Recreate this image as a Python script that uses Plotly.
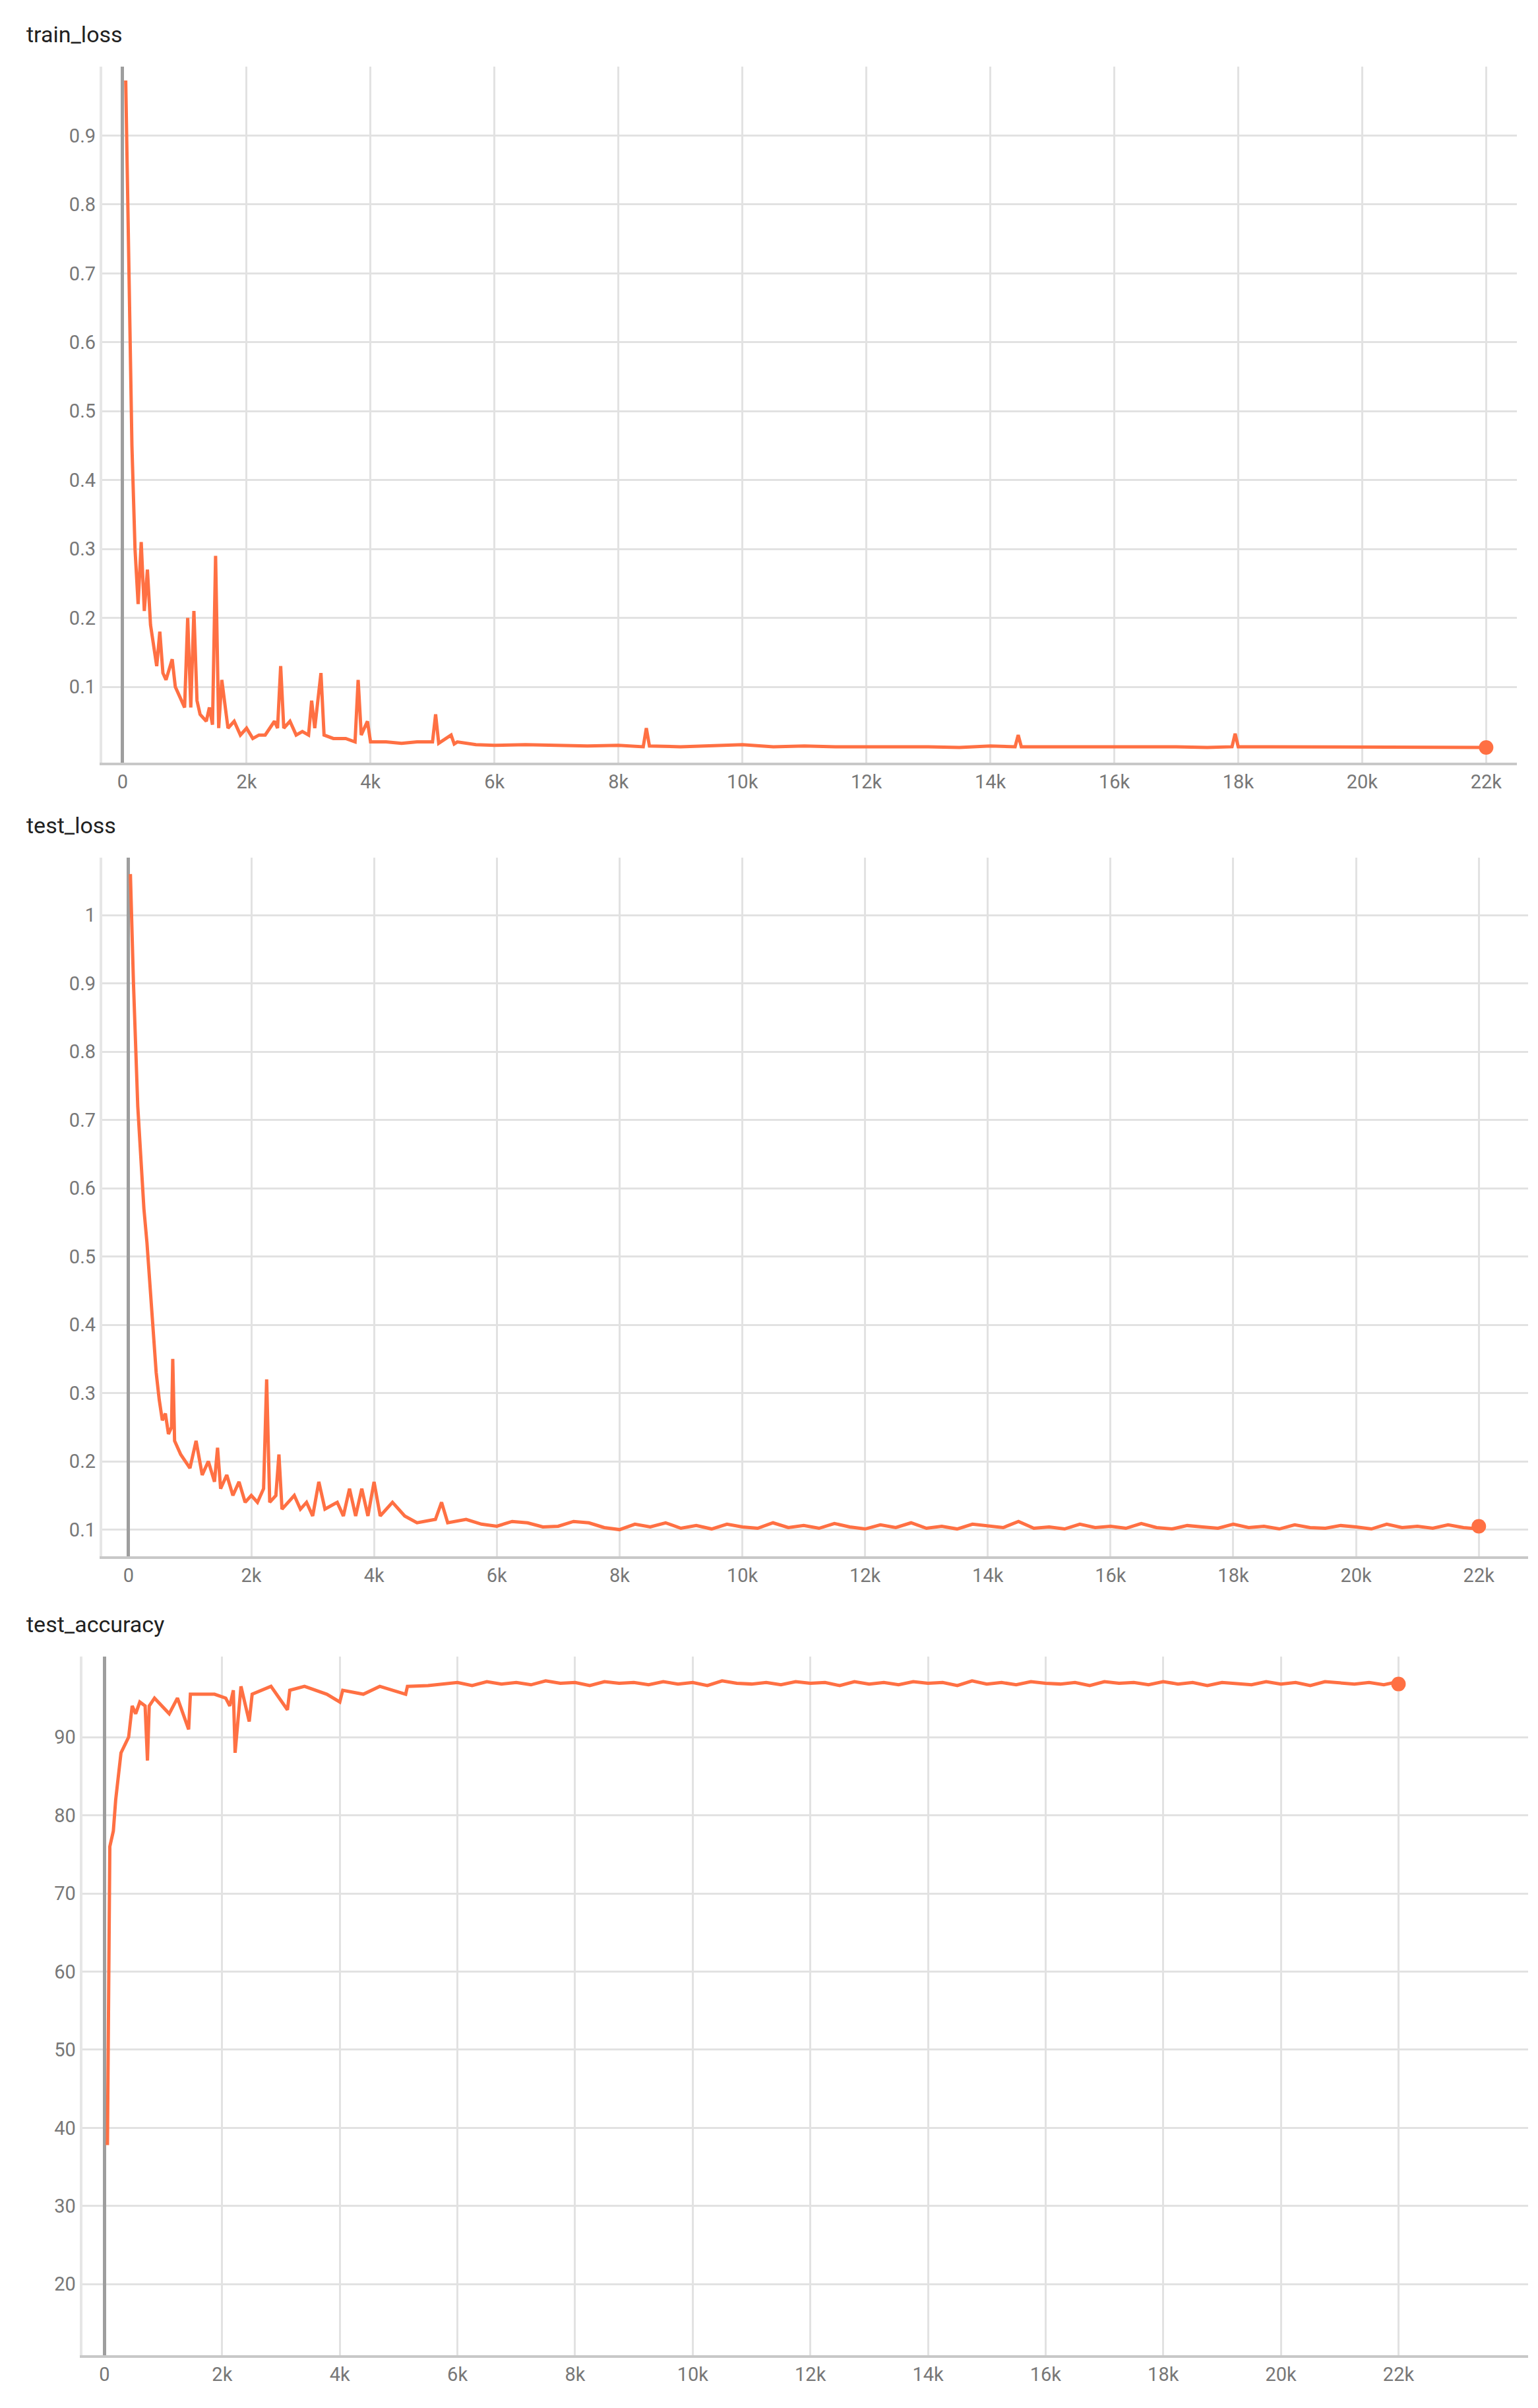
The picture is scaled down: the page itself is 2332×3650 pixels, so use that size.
import plotly.graph_objects as go

# ---- data (steps in thousands) ----
train_x = [0.05,0.1,0.15,0.2,0.25,0.3,0.35,0.4,0.45,0.5,0.55,0.6,0.65,0.7,0.8,0.85,0.9,1.0,1.05,1.1,1.15,1.2,1.25,1.35,1.4,1.45,1.5,1.55,1.6,1.7,1.8,1.9,2.0,2.1,2.2,2.3,2.45,2.5,2.55,2.6,2.7,2.8,2.9,3.0,3.05,3.1,3.2,3.25,3.4,3.6,3.75,3.8,3.85,3.95,4.0,4.25,4.5,4.75,5.0,5.05,5.1,5.3,5.35,5.4,5.7,
           6.0,6.5,7.0,7.5,8.0,8.4,8.45,8.5,9.0,9.5,10.0,10.5,11.0,11.5,12.0,12.5,13.0,13.5,14.0,14.4,14.45,14.5,15.0,15.5,16.0,16.5,17.0,17.5,17.9,17.95,18.0,18.5,19.0,19.5,20.0,20.5,21.0,21.5,22.0]
train_y = [0.98,0.7,0.45,0.3,0.22,0.31,0.21,0.27,0.19,0.16,0.13,0.18,0.12,0.11,0.14,0.10,0.09,0.07,0.2,0.07,0.21,0.08,0.06,0.05,0.07,0.045,0.29,0.04,0.11,0.04,0.05,0.03,0.04,0.025,0.03,0.03,0.05,0.04,0.13,0.04,0.05,0.03,0.035,0.03,0.08,0.04,0.12,0.03,0.025,0.025,0.02,0.11,0.03,0.05,0.02,0.02,0.018,0.02,0.02,0.06,0.018,0.03,0.017,0.02,0.016,
           0.015,0.016,0.015,0.014,0.015,0.013,0.04,0.014,0.013,0.015,0.016,0.013,0.014,0.013,0.013,0.014,0.013,0.012,0.014,0.013,0.03,0.013,0.013,0.014,0.014,0.013,0.013,0.012,0.013,0.032,0.013,0.013,0.013,0.012,0.012,0.013,0.013,0.012,0.012]

test_x = [0.03,0.08,0.15,0.25,0.3,0.4,0.45,0.5,0.55,0.6,0.65,0.7,0.72,0.75,0.85,1.0,1.1,1.2,1.3,1.4,1.45,1.5,1.6,1.7,1.8,1.9,2.0,2.1,2.2,2.25,2.3,2.4,2.45,2.5,2.7,2.8,2.9,3.0,3.1,3.2,3.4,3.5,3.6,3.7,3.8,3.9,4.0,4.1,4.3,4.5,4.7,5.0,5.1,5.2,5.5,5.75,6.0,6.25,6.5,6.75,7.0,7.25,7.5,7.75,
          8.0,8.25,8.5,8.75,9.0,9.25,9.5,9.75,10.0,10.25,10.5,10.75,11.0,11.25,11.5,11.75,12.0,12.25,12.5,12.75,13.0,13.25,13.5,13.75,14.0,14.25,14.5,14.75,15.0,15.25,15.5,15.75,16.0,16.25,16.5,16.75,17.0,17.25,17.5,17.75,18.0,18.25,18.5,18.75,19.0,19.25,19.5,19.75,20.0,20.25,20.5,20.75,21.0,21.25,21.5,21.75,22.0]
test_y = [1.06,0.9,0.72,0.57,0.52,0.40,0.33,0.29,0.26,0.27,0.24,0.25,0.35,0.23,0.21,0.19,0.23,0.18,0.2,0.17,0.22,0.16,0.18,0.15,0.17,0.14,0.15,0.14,0.16,0.32,0.14,0.15,0.21,0.13,0.15,0.13,0.14,0.12,0.17,0.13,0.14,0.12,0.16,0.12,0.16,0.12,0.17,0.12,0.14,0.12,0.11,0.115,0.14,0.11,0.115,0.108,0.105,0.112,0.11,0.104,0.105,0.112,0.11,0.103,
          0.10,0.108,0.104,0.11,0.102,0.106,0.101,0.108,0.104,0.102,0.11,0.103,0.106,0.102,0.109,0.104,0.101,0.107,0.103,0.11,0.102,0.105,0.101,0.108,0.106,0.103,0.112,0.102,0.104,0.101,0.108,0.103,0.105,0.102,0.109,0.103,0.101,0.106,0.104,0.102,0.108,0.103,0.105,0.101,0.107,0.103,0.102,0.106,0.104,0.101,0.108,0.103,0.105,0.102,0.107,0.103,0.101,0.104,0.105]

acc_x = [0.02,0.05,0.09,0.15,0.19,0.28,0.41,0.47,0.53,0.6,0.69,0.73,0.76,0.85,1.1,1.24,1.43,1.46,1.87,2.06,2.13,2.19,2.22,2.32,2.46,2.51,2.83,3.11,3.15,3.4,3.78,4.0,4.05,4.4,4.68,5.12,5.15,5.5,
         6.0,6.25,6.5,6.75,7.0,7.25,7.5,7.75,8.0,8.25,8.5,8.75,9.0,9.25,9.5,9.75,10.0,10.25,10.5,10.75,11.0,11.25,11.5,11.75,12.0,12.25,12.5,12.75,13.0,13.25,13.5,13.75,14.0,14.25,14.5,14.75,15.0,15.25,15.5,15.75,16.0,16.25,16.5,16.75,17.0,17.25,17.5,17.75,18.0,18.25,18.5,18.75,19.0,19.25,19.5,19.75,20.0,20.25,20.5,20.75,21.0,21.25,21.5,21.75,22.0]
acc_y = [38,38,76,78,82,88,90,94,93,94.5,94,87,94,95,93,95,91,95.5,95.5,95,94,96,88,96.5,92,95.5,96.5,93.5,96,96.5,95.5,94.5,96,95.5,96.5,95.5,96.5,96.6,
         97,96.6,97.1,96.8,97,96.7,97.2,96.9,97,96.6,97.1,96.9,97,96.7,97.1,96.8,97,96.6,97.2,96.9,96.8,97,96.7,97.1,96.9,97,96.6,97.1,96.8,97,96.7,97.1,96.9,97,96.6,97.2,96.8,97,96.7,97.1,96.9,96.8,97,96.6,97.1,96.9,97,96.7,97.1,96.8,97,96.6,97,96.9,96.7,97.1,96.8,97,96.6,97.1,96.9,96.8,97,96.7,97.1,96.8]

titles = ["train_loss", "test_loss", "test_accuracy"]
x_tickvals = [0, 2, 4, 6, 8, 10, 12, 14, 16, 18, 20, 22]
x_ticktext = ["0", "2k", "4k", "6k", "8k", "10k", "12k", "14k", "16k", "18k", "20k", "22k"]
loss_ticks = [0.1, 0.2, 0.3, 0.4, 0.5, 0.6, 0.7, 0.8, 0.9]
test_loss_ticks = [0.1, 0.2, 0.3, 0.4, 0.5, 0.6, 0.7, 0.8, 0.9, 1]
acc_ticks = [20, 30, 40, 50, 60, 70, 80, 90]

ORANGE = "#ff7043"
GRID = "#e2e2e2"
fig = go.Figure()
series = [(train_x, train_y), (test_x, test_y), (acc_x, acc_y)]
for i, (xs, ys) in enumerate(series):
    ax = "" if i == 0 else str(i + 1)
    fig.add_trace(go.Scatter(x=xs, y=ys, mode="lines", line=dict(color=ORANGE, width=5),
                             xaxis="x" + ax, yaxis="y" + ax, showlegend=False))
    fig.add_trace(go.Scatter(x=[xs[-1]], y=[ys[-1]], mode="markers", marker=dict(color=ORANGE, size=22),
                             xaxis="x" + ax, yaxis="y" + ax, showlegend=False))

ydoms = [[0.6855, 0.9745], [0.3559, 0.646], [0.0241, 0.3142]]
xdoms = [[0.063, 0.983], [0.063, 0.99], [0.05, 0.99]]
xranges = [[-0.33, 22.5], [-0.43, 22.8], [-0.38, 24.2]]
yranges = [[-0.01, 1.0], [0.061, 1.084], [10.9, 100.3]]
yticks = [loss_ticks, test_loss_ticks, acc_ticks]
tickfont = dict(family="Roboto", size=29, color="#777777")
lay = dict(width=2332, height=3650, margin=dict(l=0, r=0, t=0, b=0),
           plot_bgcolor="white", paper_bgcolor="white")
for i in range(3):
    sfx = "" if i == 0 else str(i + 1)
    lay["xaxis" + sfx] = dict(domain=xdoms[i], range=xranges[i], anchor="y" + sfx,
                              tickvals=x_tickvals, ticktext=x_ticktext, tickfont=tickfont,
                              showgrid=True, gridcolor=GRID, gridwidth=3, zeroline=True,
                              zerolinecolor="#9e9e9e", zerolinewidth=5,
                              showline=True, linecolor="#c8c8c8", linewidth=4, ticks="")
    lay["yaxis" + sfx] = dict(domain=ydoms[i], range=yranges[i], anchor="x" + sfx,
                              tickvals=yticks[i], tickfont=tickfont,
                              showgrid=True, gridcolor=GRID, gridwidth=3, zeroline=False,
                              showline=True, linecolor="#e6e6e6", linewidth=4, ticks="")
fig.update_layout(**lay)
title_y = [1 - 44 / 3650, 1 - 1243 / 3650, 1 - 2454 / 3650]
for i, t in enumerate(titles):
    fig.add_annotation(text=t, x=0.013, y=title_y[i], xref="paper", yref="paper",
                       xanchor="left", yanchor="middle", showarrow=False,
                       font=dict(family="Roboto", size=34, color="#212121"))
fig.write_html("out.html")
